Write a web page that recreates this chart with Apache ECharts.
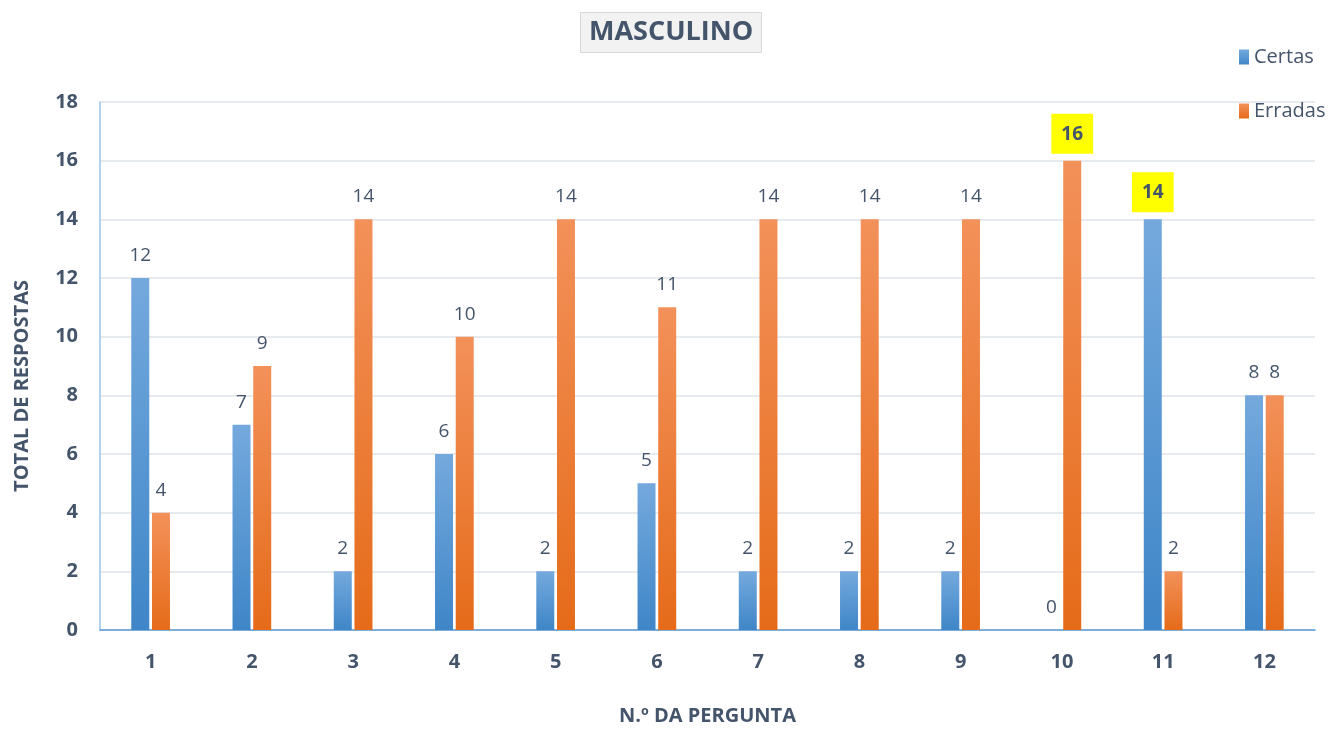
<!DOCTYPE html>
<html>
<head>
<meta charset="utf-8">
<script src="https://cdn.jsdelivr.net/npm/echarts@6/dist/echarts.min.js"></script>
<style>
  html, body { margin: 0; padding: 0; background: #fff; }
  #chart { width: 1332px; height: 729px; }
</style>
</head>
<body>
<div id="chart"></div>
<script>
  const perguntas = ['1', '2', '3', '4', '5', '6', '7', '8', '9', '10', '11', '12'];
  const certas = [12, 7, 2, 6, 2, 5, 2, 2, 2, 0, 14, 8];
  const erradas = [4, 9, 14, 10, 14, 11, 14, 14, 14, 16, 2, 8];
  // valores destacados a amarelo
  const destaqueCertas = [10];
  const destaqueErradas = [9];

  const textColor = '#44546a';
  const font = '"Open Sans", "Noto Sans", sans-serif';

  const labelBase = {
    show: true,
    position: 'top',
    distance: 13,
    color: textColor,
    fontSize: 19,
    fontFamily: font,
  };

  const labelDestaque = {
    show: true,
    position: 'top',
    distance: 7,
    color: textColor,
    fontSize: 19,
    fontWeight: 'bold',
    fontFamily: font,
    backgroundColor: '#ffff00',
    padding: [11, 10, 10, 10],
  };

  const toData = (values, destaque) =>
    values.map((v, i) => (destaque.includes(i) ? { value: v, label: labelDestaque } : v));

  const grad = (top, bottom) =>
    new echarts.graphic.LinearGradient(0, 0, 0, 1, [
      { offset: 0, color: top },
      { offset: 1, color: bottom },
    ]);

  const chart = echarts.init(document.getElementById('chart'));

  const option = {
    animation: false,
    textStyle: { fontFamily: font },
    title: {
      text: 'MASCULINO',
      left: 580,
      top: 12,
      padding: [7, 9, 7, 9],
      backgroundColor: '#f2f2f2',
      borderColor: '#d9d9d9',
      borderWidth: 1,
      textStyle: {
        color: textColor,
        fontSize: 27,
        fontWeight: 'bold',
        fontFamily: font,
      },
    },
    legend: {
      orient: 'vertical',
      left: 1234,
      top: 42,
      itemGap: 34,
      itemWidth: 10,
      itemHeight: 15,
      icon: 'rect',
      textStyle: { color: textColor, fontSize: 20, fontFamily: font },
      data: ['Certas', 'Erradas'],
    },
    grid: {
      left: 100,
      right: 17,
      top: 102,
      bottom: 99,
      outerBoundsMode: 'none',
    },
    xAxis: {
      type: 'category',
      data: perguntas,
      name: 'N.º DA PERGUNTA',
      nameLocation: 'middle',
      nameGap: 76,
      nameTextStyle: { color: textColor, fontSize: 20, fontWeight: 'bold', fontFamily: font },
      axisLine: { lineStyle: { color: '#5b9bd5', width: 1.5 } },
      axisTick: { show: false },
      axisLabel: { color: textColor, fontSize: 20, fontWeight: 'bold', margin: 22, fontFamily: font },
    },
    yAxis: {
      type: 'value',
      min: 0,
      max: 18,
      interval: 2,
      name: 'TOTAL DE RESPOSTAS',
      nameLocation: 'middle',
      nameGap: 68,
      nameTextStyle: {
        color: textColor,
        fontSize: 20,
        fontWeight: 'bold',
        fontFamily: font,
        padding: [0, 40, 0, 0],
      },
      axisLine: { show: true, lineStyle: { color: '#9dc3e6', width: 1.5 } },
      axisTick: { show: false },
      axisLabel: { color: textColor, fontSize: 20, fontWeight: 'bold', margin: 22, fontFamily: font },
      splitLine: { lineStyle: { color: '#dfe3e8', width: 1.5 } },
    },
    series: [
      {
        name: 'Certas',
        type: 'bar',
        barWidth: 18,
        barGap: '15%',
        itemStyle: { color: grad('#74a9dd', '#3f86c8') },
        label: labelBase,
        data: toData(certas, destaqueCertas),
      },
      {
        name: 'Erradas',
        type: 'bar',
        barWidth: 18,
        barGap: '15%',
        itemStyle: { color: grad('#f3915a', '#e56b19') },
        label: labelBase,
        data: toData(erradas, destaqueErradas),
      },
    ],
  };

  chart.setOption(option);
</script>
</body>
</html>
